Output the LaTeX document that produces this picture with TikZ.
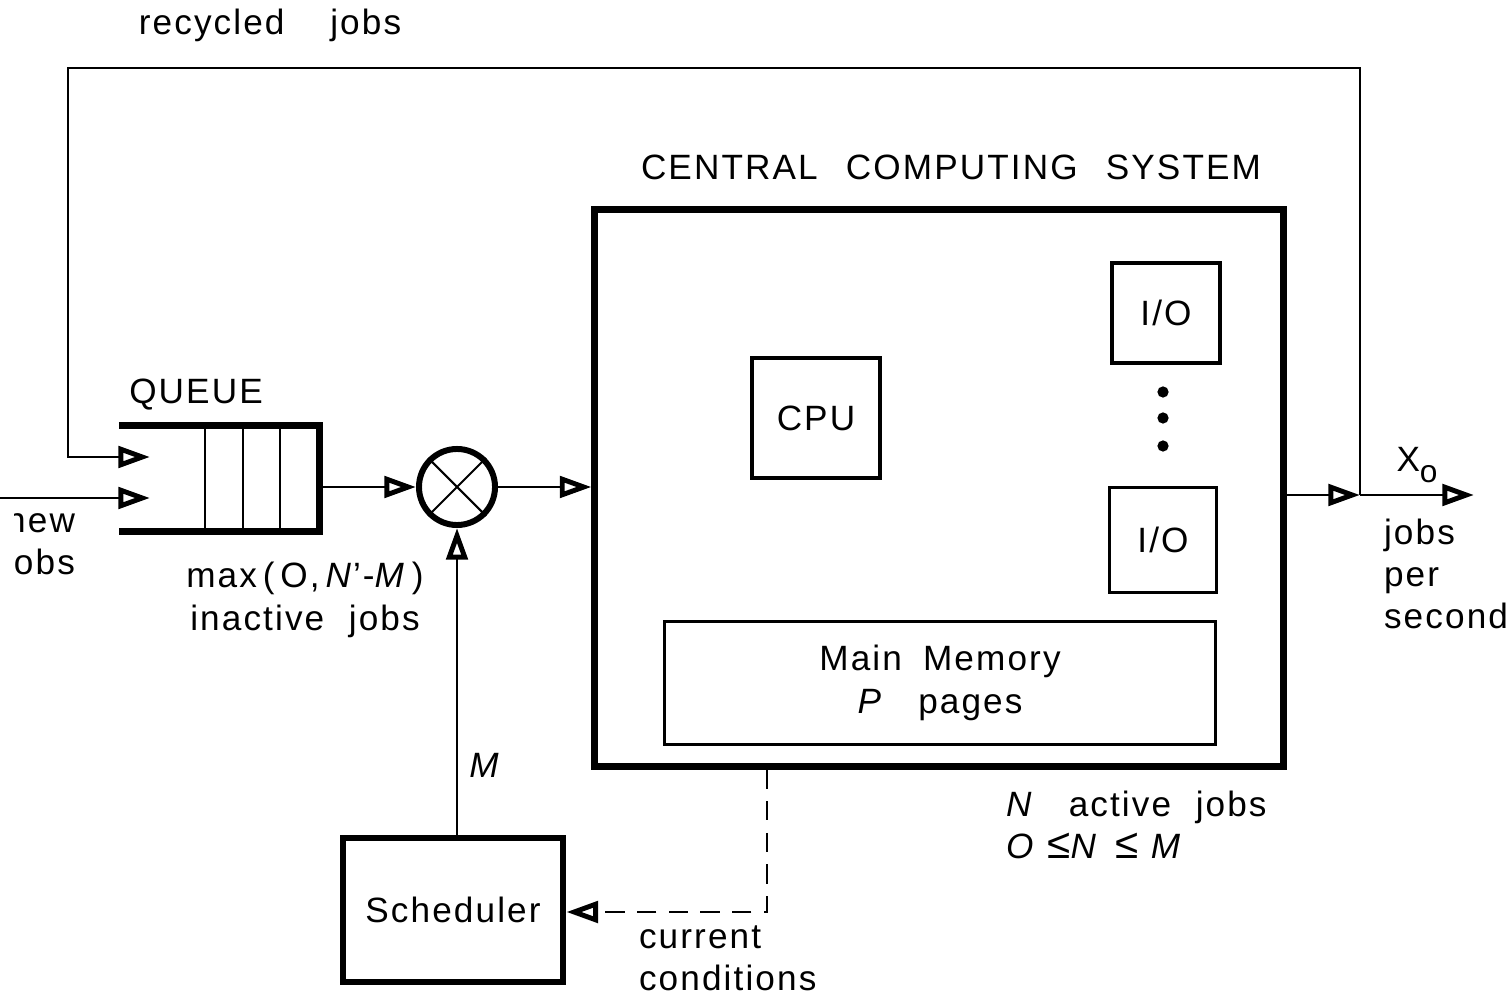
\documentclass[tikz,border=0pt]{standalone}
\usepackage{fontspec}
\setmainfont{Liberation Sans}[LetterSpace=6]
\usetikzlibrary{positioning, arrows.meta, calc}

\begin{document}
\begin{tikzpicture}[
    x=0.01cm, y=-0.01cm,
    > = {Triangle[open, length=9pt, width=6pt, line width=1.4pt]},
    line width=0.6pt,
    box/.style={draw, line width=1.9pt, inner sep=0pt},
    unit/.style={draw, line width=0.9pt, inner sep=0pt},
    lbl/.style={font=\fontsize{10}{12}\selectfont, inner sep=0pt}
]
\useasboundingbox (0,0) rectangle (1510,998);

% --- Central computing system ---
\node[box, minimum width=6.88cm, minimum height=5.56cm] (ccs) at (939,488) {};
\node[lbl] (ccstitle) at (951,167) {CENTRAL\hspace{0.8em}COMPUTING\hspace{0.8em}SYSTEM};
\node[unit, lbl, minimum width=1.28cm, minimum height=1.2cm] (cpu) at (816,418) {CPU};
\node[unit, lbl, minimum width=1.08cm, minimum height=1.0cm] (io1) at (1166,313) {I/O};
\node[unit, lbl, minimum width=1.07cm, minimum height=1.05cm] (io2) at (1163,540) {I/O};
\foreach \y in {392,418,446}
    \fill (1163,\y) circle (1.6pt);
\node[unit, lbl, align=center, minimum width=5.5cm, minimum height=1.23cm] (mem) at (940,683)
    {Main\hspace{0.6em}Memory\\\textit{P}\quad pages};
\node[lbl, align=left, anchor=west] (active) at (1005,825)
    {\textit{N}\quad active\hspace{0.7em}jobs\\\textit{O} {\large≤}\textit{N} \,{\large≤} \textit{M}};

% --- Queue ---
\node[inner sep=0pt, minimum width=1.98cm, minimum height=1.03cm] (queue) at (219,478.5) {};
\draw[line width=2pt] (queue.north west) -- (queue.north east) -- (queue.south east) -- (queue.south west);
\foreach \x in {205,243,280}
    \draw (\x,427) -- (\x,530);
\node[lbl] (qtitle) at (196,395) {QUEUE};
\node[lbl, align=center] (inactive) at (305,600) {max\,(\,O,\,\textit{N\/}'-\textit{M}\,)\\inactive\hspace{0.7em}jobs};

% --- Admission and scheduler ---
\node[draw, circle, line width=1.7pt, minimum size=0.76cm, inner sep=0pt] (mux) at (457,487) {};
\draw (mux.north west) -- (mux.south east) (mux.north east) -- (mux.south west);
\node[box, lbl, minimum width=2.2cm, minimum height=1.44cm] (sched) at (453,910) {Scheduler};
\node[lbl] (mlbl) at (485,765) {\textit{M}};

% Inputs
\coordinate (loop) at (68,68);
\coordinate (qin1) at (150,457);
\coordinate (qin2) at (150,498);
\coordinate (newin) at (-10,498);
\begin{scope}
    \clip (14,505) rectangle (110,600);
    \node[lbl, align=right, anchor=east] (newjobs) at (76,548) {new\\jobs};
\end{scope}
\node[lbl] (recycled) at (270,25) {recycled\hspace{1.3em}jobs};

% Output
\coordinate (split) at (1360,495);
\coordinate (out) at (1474,495);
\node[lbl] (xo) at (1417,465) {X\raisebox{-0.55ex}{\small o}};
\node[lbl, align=left, anchor=west] (rate) at (1383,574) {jobs\\per\\second};

% Edges
\draw[->] (newin) -- (qin2);
\draw[->] (split) |- (loop) |- (qin1);
\draw[->] (queue.east |- mux) -- (mux.west);
\draw[->] (mux.east) -- (mux -| ccs.west);
\draw[->] (sched.north -| mux) -- (mux.south);
\draw[->] (ccs.east |- split) -- (split);
\draw[->] (split) -- (out);

% Feedback to scheduler
\coordinate (cc) at (767,912);
\draw[->, dash pattern=on 5.5pt off 3.5pt] (ccs.south -| cc) -- (cc) -- (sched.east |- cc);
\node[lbl, align=left, anchor=west] (cond) at (638,958) {current\\conditions};

\end{tikzpicture}
\end{document}
